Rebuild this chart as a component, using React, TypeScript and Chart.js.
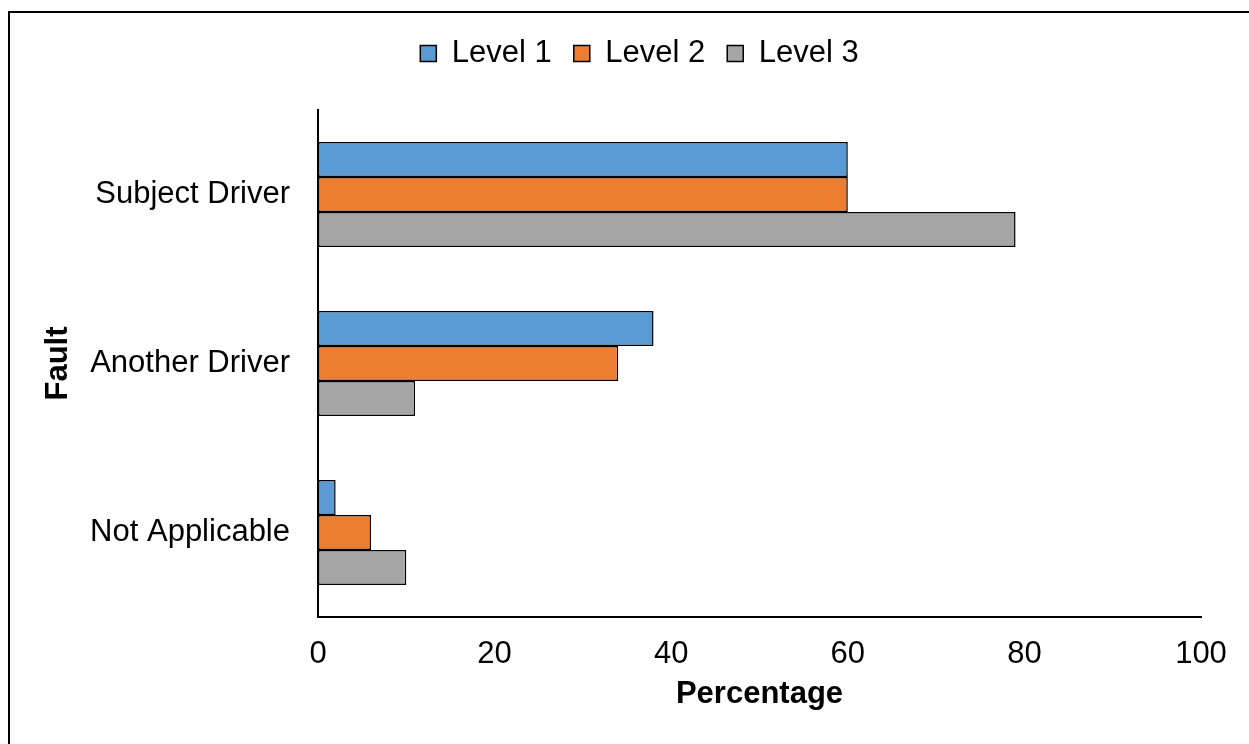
import React, { useEffect, useRef } from 'react';
import { Chart, registerables } from 'chart.js';

Chart.register(...registerables);

// Share of crashes by fault, per level
const categories = ['Subject Driver', 'Another Driver', 'Not Applicable'];
const seriesNames = ['Level 1', 'Level 2', 'Level 3'];
const level1 = [60, 38, 2];
const level2 = [60, 34, 6];
const level3 = [79, 11, 10];
const seriesColors = ['#5B9BD5', '#ED7D31', '#A5A5A5'];
const xTicks = [0, 20, 40, 60, 80, 100];

const FONT = "'Liberation Sans', Arial, Helvetica, sans-serif";

// White page with the outer frame line
const framePlugin = {
  id: 'frame',
  beforeDraw(chart: any) {
    const ctx = chart.ctx;
    ctx.save();
    ctx.fillStyle = '#ffffff';
    ctx.fillRect(0, 0, chart.width, chart.height);
    ctx.strokeStyle = '#000000';
    ctx.lineWidth = 2;
    ctx.strokeRect(9, 12, chart.width + 40, chart.height + 40);
    ctx.restore();
  },
};

export default function App() {
  const canvasRef = useRef<HTMLCanvasElement | null>(null);

  useEffect(() => {
    if (!canvasRef.current) return;
    const series = [level1, level2, level3];
    const chart = new Chart(canvasRef.current, {
      type: 'bar',
      data: {
        labels: categories,
        datasets: series.map((values, i) => ({
          label: seriesNames[i],
          data: values,
          backgroundColor: seriesColors[i],
          borderColor: '#000000',
          borderWidth: 1.5,
          borderSkipped: false,
          categoryPercentage: 0.62,
          barPercentage: 1,
        })),
      },
      options: {
        indexAxis: 'y',
        responsive: false,
        animation: false,
        layout: { padding: { left: 30, top: 16, right: 0, bottom: 0 } },
        plugins: {
          legend: {
            position: 'top',
            align: 'center',
            labels: {
              boxWidth: 16,
              boxHeight: 16,
              padding: 22,
              color: '#000000',
              font: { family: FONT, size: 31 },
            },
          },
          // empty spacer between the legend and the plot
          subtitle: {
            display: true,
            text: '',
            position: 'top',
            weight: 500,
            font: { family: FONT, size: 10, lineHeight: 1 },
            padding: { top: 10, bottom: 11 },
          },
          tooltip: { enabled: false },
        },
        scales: {
          x: {
            type: 'linear',
            min: xTicks[0],
            max: xTicks[xTicks.length - 1],
            grid: { display: false, drawTicks: false },
            border: { display: true, color: '#000000', width: 2 },
            ticks: {
              stepSize: xTicks[1] - xTicks[0],
              padding: 19,
              color: '#000000',
              font: { family: FONT, size: 31 },
            },
            title: {
              display: true,
              text: 'Percentage',
              color: '#000000',
              font: { family: FONT, size: 31, weight: 'bold' },
              padding: { top: 0, bottom: 31 },
            },
            afterFit: (scale: any) => {
              scale.height = 127;
              scale.paddingRight = 48;
            },
          },
          y: {
            type: 'category',
            grid: { display: false, drawTicks: false },
            border: { display: true, color: '#000000', width: 2 },
            ticks: {
              autoSkip: false,
              padding: 28,
              color: '#000000',
              font: { family: FONT, size: 31 },
            },
            title: {
              display: true,
              text: 'Fault',
              color: '#000000',
              font: { family: FONT, size: 31, weight: 'bold' },
              padding: { top: 10, bottom: 0 },
            },
            afterFit: (scale: any) => {
              scale.width = 288;
            },
          },
        },
      },
      plugins: [framePlugin],
    });
    return () => chart.destroy();
  }, []);

  return (
    <div style={{ position: 'fixed', left: 0, top: 0, width: 1249, height: 744, background: '#fff' }}>
      <canvas ref={canvasRef} width={1249} height={744} style={{ display: 'block' }} />
    </div>
  );
}
